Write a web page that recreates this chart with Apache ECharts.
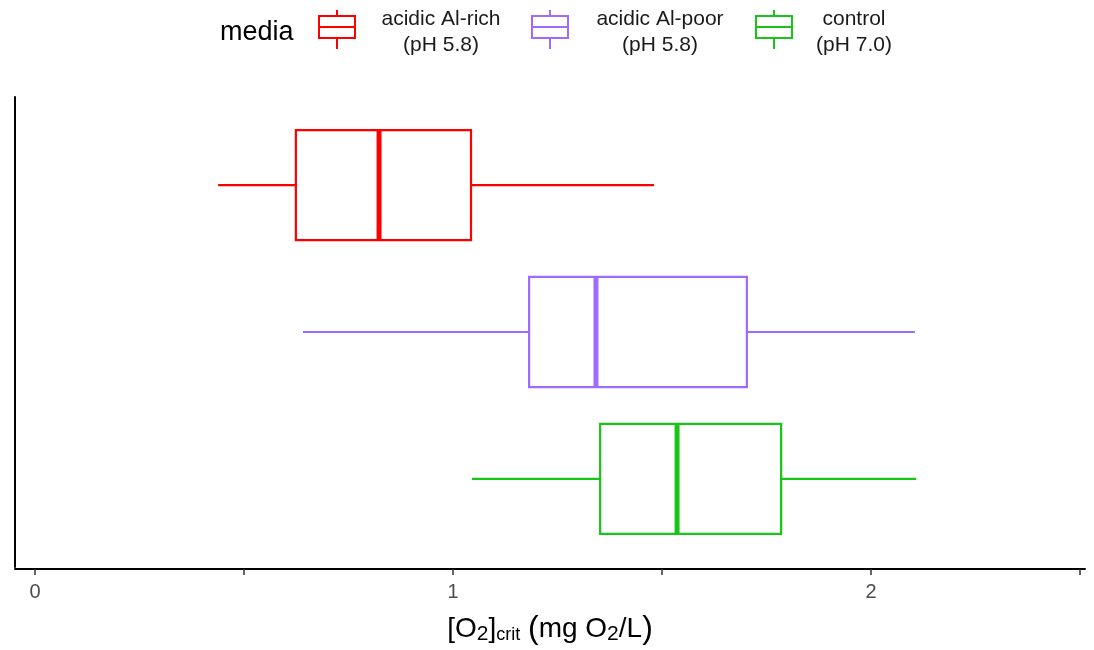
<!DOCTYPE html>
<html>
<head>
<meta charset="utf-8">
<script src="https://cdn.jsdelivr.net/npm/echarts@6/dist/echarts.min.js"></script>
<style>
  html, body { margin: 0; padding: 0; background: #fff; }
  #main { width: 1094px; height: 650px; }
</style>
</head>
<body>
<div id="main"></div>
<script>
// boxplot stats, one entry per medium
const media = ["acidic Al-rich\n(pH 5.8)", "acidic Al-poor\n(pH 5.8)", "control\n(pH 7.0)"];
const colors = ["#ff0000", "#9f6bff", "#17c417"];
const whiskerLow = [0.438, 0.641, 1.045];
const q1 = [0.624, 1.182, 1.352];
const median = [0.823, 1.342, 1.536];
const q3 = [1.043, 1.703, 1.785];
const whiskerHigh = [1.481, 2.105, 2.108];
const xTicks = [0, 0.5, 1, 1.5, 2, 2.5];
const xLabels = [0, 1, 2];

const chart = echarts.init(document.getElementById("main"));

function renderBox(params, api) {
  const y = api.value(0);
  const lo = api.coord([api.value(1), y]);
  const b1 = api.coord([api.value(2), y]);
  const md = api.coord([api.value(3), y]);
  const b3 = api.coord([api.value(4), y]);
  const hi = api.coord([api.value(5), y]);
  const h = api.size([0, 0.75])[1];
  const col = api.visual("color");
  const line = { stroke: col, lineWidth: 2.2 };
  return {
    type: "group",
    children: [
      { type: "line", shape: { x1: lo[0], y1: lo[1], x2: b1[0], y2: b1[1] }, style: line },
      { type: "line", shape: { x1: b3[0], y1: b3[1], x2: hi[0], y2: hi[1] }, style: line },
      { type: "rect", shape: { x: b1[0], y: b1[1] - h / 2, width: b3[0] - b1[0], height: h },
        style: { fill: "#fff", stroke: col, lineWidth: 2.2 } },
      { type: "line", shape: { x1: md[0], y1: md[1] - h / 2, x2: md[0], y2: md[1] + h / 2 },
        style: { stroke: col, lineWidth: 5 } }
    ]
  };
}

const series = media.map((name, i) => ({
  name: name,
  type: "custom",
  renderItem: renderBox,
  itemStyle: { color: colors[i] },
  encode: { x: [1, 2, 3, 4, 5], y: 0 },
  data: [[i + 1, whiskerLow[i], q1[i], median[i], q3[i], whiskerHigh[i]]]
}));

// legend drawn by hand to get the ggplot look
const legendItems = [];
legendItems.push({
  type: "text", x: 220, y: 33,
  style: { text: "media", fontSize: 27, fill: "#000", fontFamily: "Liberation Sans", verticalAlign: "middle" }
});
const iconX = [319, 532, 756];
const textX = [441, 660, 854];
media.forEach((name, i) => {
  const x = iconX[i];
  const c = colors[i];
  legendItems.push({
    type: "group", x: x, y: 10,
    children: [
      { type: "line", shape: { x1: 18, y1: 0, x2: 18, y2: 6 }, style: { stroke: c, lineWidth: 2 } },
      { type: "rect", shape: { x: 0, y: 6, width: 36, height: 22 }, style: { fill: "#fff", stroke: c, lineWidth: 2 } },
      { type: "line", shape: { x1: 0, y1: 17, x2: 36, y2: 17 }, style: { stroke: c, lineWidth: 2 } },
      { type: "line", shape: { x1: 18, y1: 28, x2: 18, y2: 39 }, style: { stroke: c, lineWidth: 2 } }
    ]
  });
  legendItems.push({
    type: "text", x: textX[i], y: 32,
    style: {
      text: name, fontSize: 21, fill: "#1a1a1a", fontFamily: "Liberation Sans",
      align: "center", verticalAlign: "middle", lineHeight: 26
    }
  });
});

chart.setOption({
  animation: false,
  backgroundColor: "#fff",
  textStyle: { fontFamily: "Liberation Sans" },
  grid: { left: 15, right: 9, top: 97, bottom: 78 },
  xAxis: {
    type: "value",
    min: -0.048,
    max: 2.512,
    offset: 2,
    splitLine: { show: false },
    axisLine: { onZero: false, lineStyle: { color: "#000", width: 2 } },
    axisTick: { customValues: xTicks, length: 6, lineStyle: { color: "#333", width: 1.5 } },
    axisLabel: { customValues: xLabels, fontSize: 20, color: "#4d4d4d", margin: 13 },
    name: "[O{sub|2}]{sub2|crit} {par|(}mg O{sub|2}/L{par|)}",
    nameLocation: "middle",
    nameGap: 44,
    nameTextStyle: {
      fontSize: 28, color: "#000", fontFamily: "Liberation Sans",
      rich: {
        sub: { fontSize: 21, padding: [10, 0, 0, 0], fontFamily: "Liberation Sans" },
        sub2: { fontSize: 18, padding: [12, 0, 0, 0], fontFamily: "Liberation Sans" },
        par: { fontSize: 32, fontFamily: "Liberation Sans" }
      }
    }
  },
  yAxis: {
    type: "value",
    min: 0.4,
    max: 3.6,
    inverse: true,
    splitLine: { show: false },
    axisLine: { show: true, onZero: false, lineStyle: { color: "#000", width: 2 } },
    axisTick: { show: false },
    axisLabel: { show: false }
  },
  graphic: legendItems,
  series: series
});
</script>
</body>
</html>
